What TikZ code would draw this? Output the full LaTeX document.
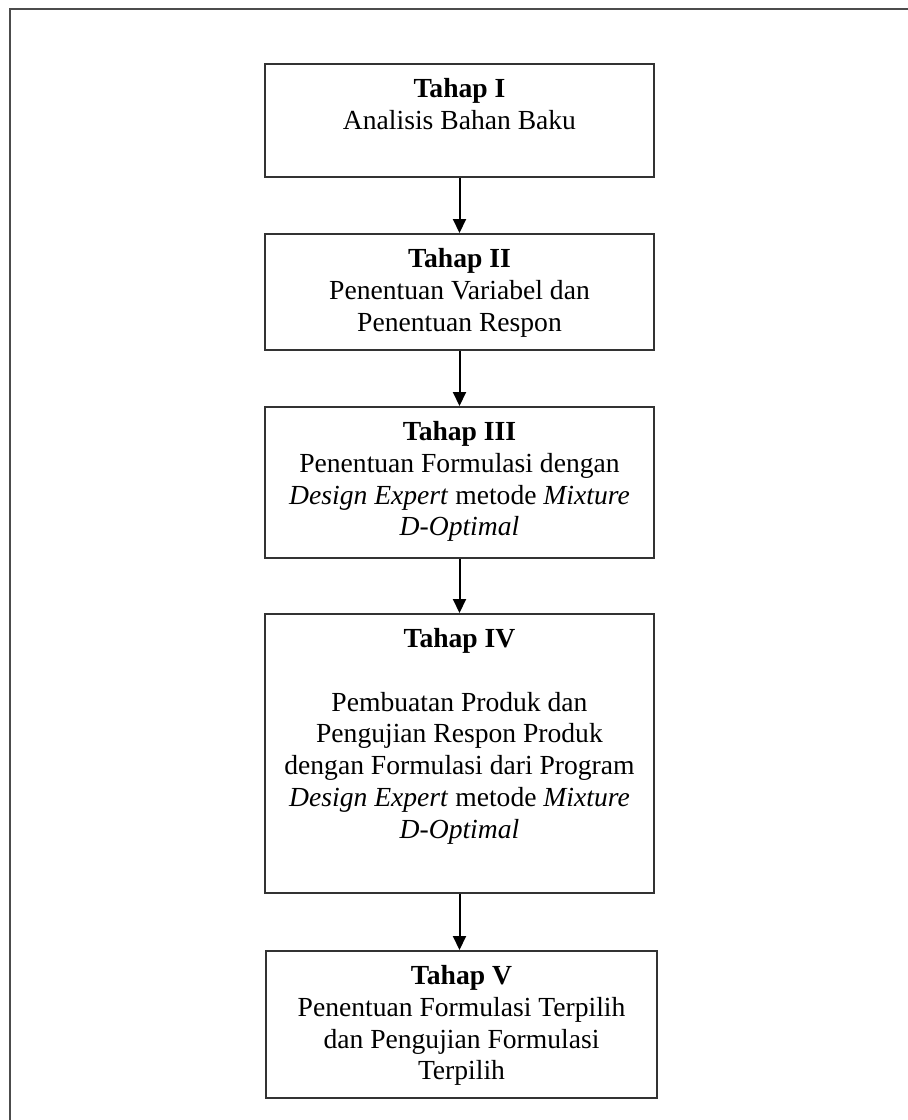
\documentclass[tikz,border=0pt]{standalone}
\usepackage{fontspec}
\setmainfont{Liberation Serif}
\usetikzlibrary{arrows.meta}

\newcommand{\isitahap}[3]{\parbox[t][#1][t]{#2}{\centering\rule{0pt}{17pt}#3}}

\begin{document}
\begin{tikzpicture}[x=0.5pt,y=-0.5pt,
  tahap/.style={draw=black!80, line width=0.8pt, inner sep=0pt, anchor=north,
    font=\fontsize{13.8}{15.85}\selectfont},
  panah/.style={-{Triangle[length=7pt,width=6.5pt]}, line width=1pt}]

\useasboundingbox (0,0) rectangle (908,1120);

% bingkai luar
\draw [color=black!70, line width=1.4pt] (10,1120) -- (10,9) -- (908,9);

\node [tahap] (tahap1) at (459.5,63) {\isitahap{56.5pt}{194.5pt}{\textbf{Tahap I}\\
  Analisis Bahan Baku}};
\node [tahap] (tahap2) at (459.5,233) {\isitahap{58pt}{194.5pt}{\textbf{Tahap II}\\
  Penentuan Variabel dan\\ Penentuan Respon}};
\node [tahap] (tahap3) at (459.5,406) {\isitahap{75.5pt}{194.5pt}{\textbf{Tahap III}\\
  Penentuan Formulasi dengan\\ \textit{Design Expert} metode \textit{Mixture}\\
  \textit{D-Optimal}}};
\node [tahap] (tahap4) at (459.5,613) {\isitahap{139.5pt}{194.5pt}{\textbf{Tahap IV}\\[15.85pt]
  Pembuatan Produk dan\\ Pengujian Respon Produk\\ dengan Formulasi dari Program\\
  \textit{Design Expert} metode \textit{Mixture}\\ \textit{D-Optimal}}};
\node [tahap] (tahap5) at (461.5,950) {\isitahap{73.5pt}{195.5pt}{\textbf{Tahap V}\\
  Penentuan Formulasi Terpilih\\ dan Pengujian Formulasi\\ Terpilih}};

\draw [panah] (tahap1.south) -- (tahap2.north);
\draw [panah] (tahap2.south) -- (tahap3.north);
\draw [panah] (tahap3.south) -- (tahap4.north);
\draw [panah] (tahap4.south) -- (tahap4.south |- tahap5.north);

\end{tikzpicture}
\end{document}
